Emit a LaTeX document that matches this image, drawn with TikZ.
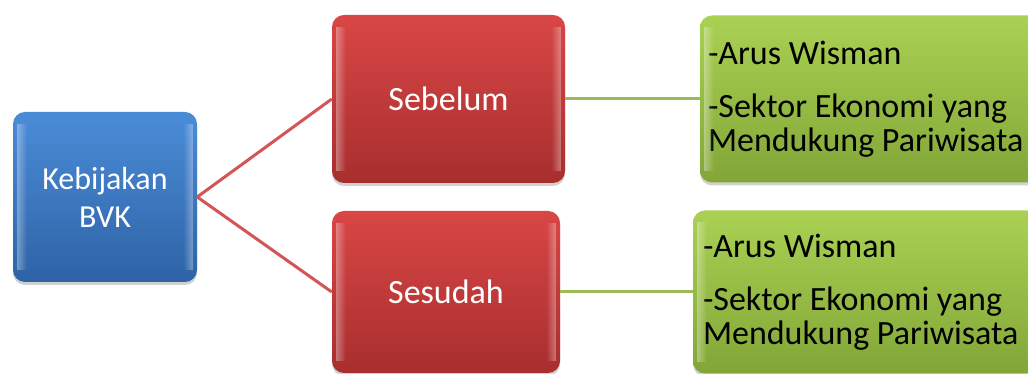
\documentclass[tikz,border=0pt]{standalone}
\usepackage{fontspec}
\setmainfont{Carlito}
\usetikzlibrary{shadows,fadings}
\definecolor{bluetop}{HTML}{4B8CD8}
\definecolor{bluebot}{HTML}{2E63A6}
\definecolor{redtop}{HTML}{D94646}
\definecolor{redbot}{HTML}{A82E2E}
\definecolor{greentop}{HTML}{AAD153}
\definecolor{greenbot}{HTML}{82A637}
\definecolor{redline}{HTML}{D45555}
\definecolor{greenline}{HTML}{9BBB59}
\begin{document}
\begin{tikzpicture}[x=1pt,y=1pt,
  boxbase/.style={rounded corners=12pt, draw=none, inner sep=0pt,
    drop shadow={shadow xshift=0pt, shadow yshift=-3pt, opacity=0.3, fill=black!60}},
  bluebox/.style={boxbase, top color=bluetop, bottom color=bluebot, text=white,
    align=center, font=\fontsize{32}{38}\selectfont},
  redbox/.style={boxbase, top color=redtop, bottom color=redbot, text=white,
    align=center, font=\fontsize{34}{40}\selectfont},
  greenbox/.style={boxbase, top color=greentop, bottom color=greenbot, text=black,
    align=flush left, font=\fontsize{34}{34}\selectfont},
  redlink/.style={draw=redline, line width=3pt},
  greenlink/.style={draw=greenline, line width=3pt},
  bevelL/.style={fill=white, opacity=0.35, path fading=east},
  bevelR/.style={fill=white, opacity=0.35, path fading=west}
]
\useasboundingbox (0,0) rectangle (1028,374);
\clip (0,0) rectangle (1028,374);

\node[bluebox, minimum width=184pt, minimum height=170pt] (kb) at (105,177) {Kebijakan\\BVK};
\node[redbox, minimum width=233pt, minimum height=168pt] (sb) at (448.5,275) {Sebelum};
\node[redbox, minimum width=228pt, minimum height=162pt] (sd) at (446,82) {Sesudah};
\node[greenbox, minimum width=340pt, minimum height=167pt, text width=324pt, inner xsep=8pt] (g1) at (870,275)
  {-Arus Wisman\\[19pt]-Sektor Ekonomi yang\\Mendukung Pariwisata};
\node[greenbox, minimum width=347pt, minimum height=163pt, text width=327pt, inner xsep=10pt] (g2) at (866.5,82)
  {-Arus Wisman\\[19pt]-Sektor Ekonomi yang\\Mendukung Pariwisata};

\foreach \n in {kb,sb,sd,g1,g2}{
  \fill[bevelL] ([xshift=4pt,yshift=-12pt]\n.north west) rectangle ([xshift=14pt,yshift=12pt]\n.south west);
  \fill[bevelR] ([xshift=-14pt,yshift=-12pt]\n.north east) rectangle ([xshift=-4pt,yshift=12pt]\n.south east);
}

\draw[redlink] (kb.east) -- (sb.west);
\draw[redlink] (kb.east) -- (sd.west);
\draw[greenlink] (sb.east) -- (g1.west);
\draw[greenlink] (sd.east) -- (g2.west);
\end{tikzpicture}
\end{document}
